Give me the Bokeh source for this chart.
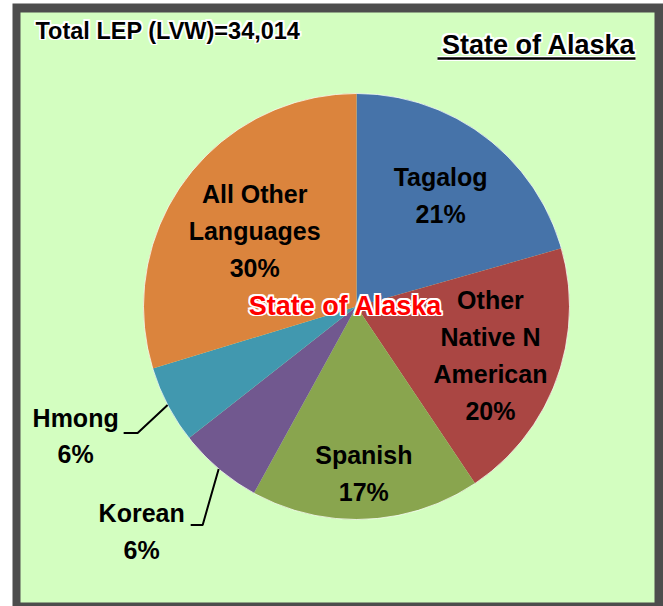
import math
from bokeh.plotting import figure
from bokeh.models import Range1d, ColumnDataSource
from bokeh.core.properties import value
from bokeh.embed import file_html
from bokeh.resources import INLINE

# ---- data ----
languages = ["Tagalog", "Other Native N American", "Spanish", "Korean", "Hmong", "All Other Languages"]
label_names = ["Tagalog", "Other\nNative N\nAmerican", "Spanish", "Korean", "Hmong", "All Other\nLanguages"]
shares = [20.6, 20.0, 17.4, 6.4, 5.9, 29.7]
colors = ["#4673a9", "#aa4643", "#89a54e", "#71588f", "#4198af", "#db843d"]
total_text = "Total LEP (LVW)=34,014"
area_name = "State of Alaska"

W, H = 663, 606
FONT = "Liberation Sans"

def Y(ypix):
    return H - ypix

p = figure(width=W, height=H, output_backend="svg", toolbar_location=None,
           x_range=Range1d(0, W), y_range=Range1d(0, H),
           x_axis_type=None, y_axis_type=None, min_border=0,
           background_fill_color="white", border_fill_color="white")
p.outline_line_color = None
p.grid.visible = False

# frame
p.quad(left=[12], right=[663], bottom=[Y(606)], top=[Y(3)], fill_color="#4d4d4d", line_color=None)
p.quad(left=[20], right=[654], bottom=[Y(602)], top=[Y(12)], fill_color="#d3fec0", line_color=None)

# pie
cx, cy, R = 356, Y(306), 213
tot = sum(shares)
starts, ends, mids = [], [], []
c = 0.0
for s in shares:
    a0 = c / tot
    c += s
    a1 = c / tot
    starts.append(math.pi / 2 - 2 * math.pi * a0)
    ends.append(math.pi / 2 - 2 * math.pi * a1)
    mids.append(2 * math.pi * (a0 + a1) / 2)  # clockwise from 12 o'clock
src = ColumnDataSource(dict(start=starts, end=ends, color=colors, lang=languages))
p.wedge(x=cx, y=cy, radius=R, start_angle="start", end_angle="end", direction="clock",
        fill_color="color", line_color=None, source=src)
p.arc(x=cx, y=cy, radius=R, start_angle=0, end_angle=2 * math.pi, line_color="white",
      line_width=1, line_alpha=0.7)

def halo(x, y, txt, color, size, align="center", baseline="middle", halo_color="white", d=1.6):
    for dx, dy in [(-d, 0), (d, 0), (0, -d), (0, d), (-d, -d), (d, d), (-d, d), (d, -d)]:
        p.text(x=[x + dx], y=[y + dy], text=[txt], text_color=halo_color, text_font=value(FONT),
               text_font_style="bold", text_font_size=size, text_align=align, text_baseline=baseline)
    p.text(x=[x], y=[y], text=[txt], text_color=color, text_font=value(FONT),
           text_font_style="bold", text_font_size=size, text_align=align, text_baseline=baseline)

# inside labels: radial fraction per slice (None = outside with leader)
radial = [0.655, 0.67, 0.784, None, None, 0.595]
leader_off = {3: ((-16, 56), (-12, 0), (-49, 7)), 4: ((-30, 28), (-14, 0), (-48, 3))}
for i, (nm, s) in enumerate(zip(label_names, shares)):
    txt = f"{nm}\n{round(s)}%"
    a = mids[i]
    if radial[i] is not None:
        r = radial[i] * R
        lx = cx + r * math.sin(a)
        ly = cy + r * math.cos(a)
    else:
        ex = cx + R * math.sin(a)
        ey = cy + R * math.cos(a)
        (odx, ody), (hdx, _), (tdx, tdy) = leader_off[i]
        bx, by = ex + odx, ey - ody
        fx, fy = bx + hdx, by
        p.line(x=[ex, bx, fx], y=[ey, by, fy], line_color="black", line_width=2)
        lx, ly = fx + tdx, fy - tdy
    p.text(x=[lx], y=[ly], text=[txt], text_color="black", text_font=value(FONT),
           text_font_style="bold", text_font_size="25px", text_align="center",
           text_baseline="middle", text_line_height=1.32)

# centre name
halo(cx - 11, cy + 1, area_name, "#ff0000", "27px")

# titles
halo(35, Y(30), total_text, "black", "23.5px", align="left")
halo(635, Y(44), area_name, "black", "27px", align="right")
p.line(x=[437, 635], y=[Y(58), Y(58)], line_color="white", line_width=5)
p.line(x=[437, 635], y=[Y(58), Y(58)], line_color="black", line_width=2.5)

open("out.html", "w").write(file_html(p, INLINE))
